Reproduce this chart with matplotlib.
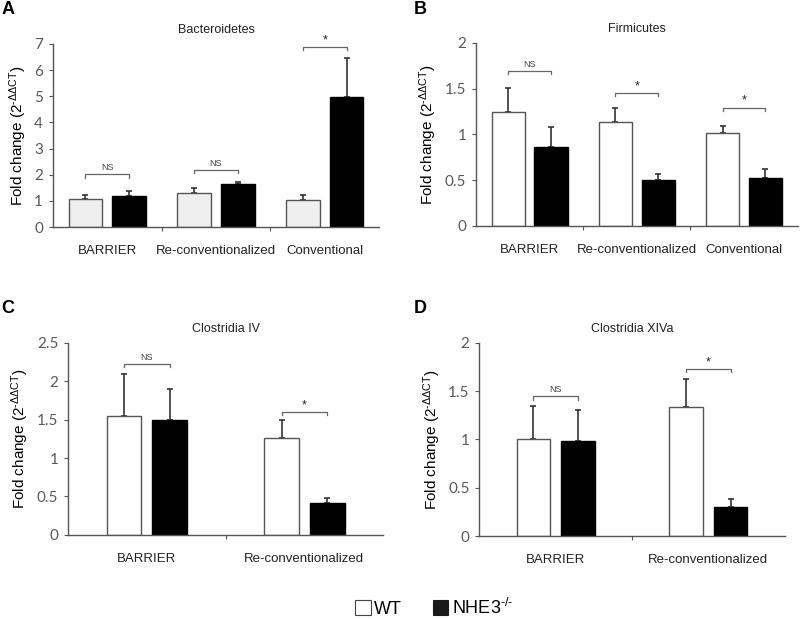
import matplotlib.pyplot as plt
import numpy as np
from matplotlib.patches import Patch

plt.rcParams['font.family'] = ['Liberation Sans', 'DejaVu Sans']
plt.rcParams['mathtext.fontset'] = 'custom'
plt.rcParams['mathtext.rm'] = 'Liberation Sans'
plt.rcParams['mathtext.it'] = 'Liberation Sans:italic'
plt.rcParams['mathtext.bf'] = 'Liberation Sans:bold'

# data
titles = ['Bacteroidetes', 'Firmicutes', 'Clostridia IV', 'Clostridia XIVa']
panel_letters = ['A', 'B', 'C', 'D']
groups3 = ['BARRIER', 'Re-conventionalized', 'Conventional']
groups2 = ['BARRIER', 'Re-conventionalized']

bact_wt = [1.08, 1.31, 1.04]
bact_wt_err = [0.15, 0.19, 0.19]
bact_ko = [1.18, 1.64, 4.98]
bact_ko_err = [0.19, 0.10, 1.48]

firm_wt = [1.24, 1.13, 1.01]
firm_wt_err = [0.27, 0.16, 0.08]
firm_ko = [0.86, 0.50, 0.52]
firm_ko_err = [0.22, 0.07, 0.10]

clos4_wt = [1.55, 1.26]
clos4_wt_err = [0.55, 0.23]
clos4_ko = [1.50, 0.41]
clos4_ko_err = [0.40, 0.07]

clos14_wt = [1.01, 1.34]
clos14_wt_err = [0.34, 0.29]
clos14_ko = [0.98, 0.30]
clos14_ko_err = [0.33, 0.08]

# significance: (group index, bracket height, label)
bact_sig = [(0, 2.02, 'NS'), (1, 2.18, 'NS'), (2, 6.88, '*')]
firm_sig = [(0, 1.69, 'NS'), (1, 1.45, '*'), (2, 1.29, '*')]
clos4_sig = [(0, 2.23, 'NS'), (1, 1.60, '*')]
clos14_sig = [(0, 1.45, 'NS'), (1, 1.73, '*')]

panels = [
    (groups3, bact_wt, bact_wt_err, bact_ko, bact_ko_err, bact_sig, 7, 1, '#efefef'),
    (groups3, firm_wt, firm_wt_err, firm_ko, firm_ko_err, firm_sig, 2, 0.5, 'white'),
    (groups2, clos4_wt, clos4_wt_err, clos4_ko, clos4_ko_err, clos4_sig, 2.5, 0.5, 'white'),
    (groups2, clos14_wt, clos14_wt_err, clos14_ko, clos14_ko_err, clos14_sig, 2, 0.5, 'white'),
]
positions = [
    [0.066, 0.633, 0.408, 0.296],
    [0.595, 0.635, 0.402, 0.296],
    [0.085, 0.136, 0.394, 0.310],
    [0.599, 0.134, 0.382, 0.312],
]
letter_xy = [(0.002, 0.998), (0.517, 0.998), (0.002, 0.515), (0.517, 0.515)]

axis_col = '#555555'
tick_col = '#595959'
hy = '\u2010'  # plain hyphen inside mathtext superscripts

fig = plt.figure(figsize=(8, 6.19), dpi=100)

for i, (groups, wt, wt_err, ko, ko_err, sig, ymax, ystep, wt_col) in enumerate(panels):
    ax = fig.add_axes(positions[i])
    n = len(groups)
    centers = np.arange(n) + 0.5
    if n == 3:
        width, off = 0.31, 0.2
    else:
        width, off = 0.22, 0.145
    ax.bar(centers - off, wt, width, color=wt_col, edgecolor=axis_col, linewidth=1, zorder=2)
    ax.bar(centers + off, ko, width, color='black', edgecolor='black', linewidth=1, zorder=2)
    ax.errorbar(centers - off, wt, yerr=[np.zeros(n), wt_err], fmt='none', ecolor='#333333',
                elinewidth=1.2, capsize=2, capthick=1.2, zorder=1)
    ax.errorbar(centers + off, ko, yerr=[np.zeros(n), ko_err], fmt='none', ecolor='#333333',
                elinewidth=1.2, capsize=2, capthick=1.2, zorder=1)

    drop = ymax * 0.018
    for g, h, lab in sig:
        x0, x1 = centers[g] - off, centers[g] + off
        ax.plot([x0, x0, x1, x1], [h - drop, h, h, h - drop], color='#666666', lw=0.9)
        if lab == 'NS':
            ax.text((x0 + x1) / 2, h + ymax * 0.01, lab, ha='center', va='bottom', fontsize=6.5,
                    color='#444444')
        else:
            ax.text((x0 + x1) / 2, h + ymax * 0.005, lab, ha='center', va='bottom', fontsize=9,
                    color='#222222')

    ax.set_xlim(0, n)
    ax.set_ylim(0, ymax)
    ax.set_yticks(np.arange(0, ymax + ystep / 2, ystep))
    ax.set_yticklabels(['{:g}'.format(v) for v in np.arange(0, ymax + ystep / 2, ystep)],
                       family=['Lato', 'DejaVu Sans'], fontsize=11, color=tick_col)
    ax.set_xticks(np.arange(1, n))
    ax.set_xticklabels([])
    ax.set_xticks(centers, minor=True)
    ax.set_xticklabels(groups, minor=True, fontsize=9.5, color='#222222')
    ax.tick_params(axis='x', which='minor', length=0, pad=13)
    ax.tick_params(axis='x', which='major', length=3, color=axis_col)
    ax.tick_params(axis='y', length=3, color=axis_col, pad=4)
    for s in ['top', 'right']:
        ax.spines[s].set_visible(False)
    for s in ['left', 'bottom']:
        ax.spines[s].set_color(axis_col)
        ax.spines[s].set_linewidth(1)
    ax.set_title(titles[i], fontsize=9, color='#222222', pad=8)
    ax.set_ylabel('Fold change (2$^{\\mathregular{' + hy + '\\Delta\\Delta CT}}$)', fontsize=11,
                  labelpad=4)
    fig.text(letter_xy[i][0], letter_xy[i][1], panel_letters[i], fontsize=13, fontweight='bold',
             ha='left', va='top')

handles = [Patch(facecolor='white', edgecolor='#444444', linewidth=0.8),
           Patch(facecolor='#1a1a1a', edgecolor='#1a1a1a', linewidth=0.8)]
fig.legend(handles, ['WT', 'NHE3$^{\\mathregular{' + hy + '/' + hy + '}}$'], loc='center',
           bbox_to_anchor=(0.543, 0.018), ncol=2, frameon=False, fontsize=13,
           handlelength=0.85, handleheight=0.85, handletextpad=0.2, columnspacing=1.7)

fig.savefig('out.png', dpi=100)
